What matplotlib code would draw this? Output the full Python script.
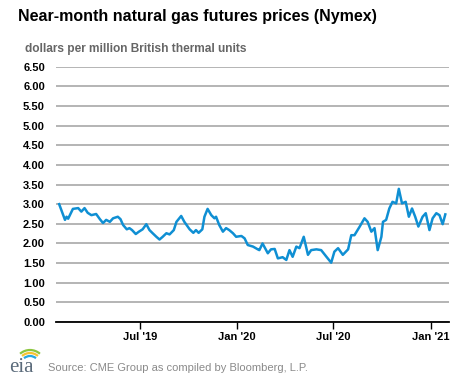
import numpy as np
import pandas as pd
import matplotlib
matplotlib.use("Agg")
import matplotlib.pyplot as plt
from matplotlib.patches import Arc

plt.rcParams['font.family'] = ['Liberation Sans', 'DejaVu Sans']

# near-month price readings, dollars per MMBtu
dates = ["2019-01-29", "2019-02-09", "2019-02-12", "2019-02-15", "2019-02-24", "2019-03-06",
         "2019-03-12", "2019-03-18", "2019-03-24", "2019-03-31", "2019-04-09", "2019-04-16",
         "2019-04-22", "2019-04-28", "2019-05-05", "2019-05-11", "2019-05-20", "2019-05-25",
         "2019-05-30", "2019-06-06", "2019-06-11", "2019-06-16", "2019-06-23", "2019-06-29",
         "2019-07-06", "2019-07-13", "2019-07-19", "2019-07-25", "2019-08-01", "2019-08-07",
         "2019-08-13", "2019-08-20", "2019-08-26", "2019-09-03", "2019-09-08", "2019-09-17",
         "2019-09-23", "2019-10-03", "2019-10-10", "2019-10-15", "2019-10-20", "2019-10-27",
         "2019-10-31", "2019-11-06", "2019-11-13", "2019-11-19", "2019-11-22", "2019-11-28",
         "2019-12-05", "2019-12-11", "2019-12-17", "2019-12-24", "2019-12-30", "2020-01-09",
         "2020-01-15", "2020-01-21", "2020-01-31", "2020-02-09", "2020-02-12", "2020-02-18",
         "2020-02-28", "2020-03-05", "2020-03-12", "2020-03-18", "2020-03-27", "2020-04-03",
         "2020-04-09", "2020-04-15", "2020-04-22", "2020-04-28", "2020-05-06", "2020-05-14",
         "2020-05-20", "2020-05-30", "2020-06-08", "2020-06-18", "2020-06-27", "2020-07-03",
         "2020-07-10", "2020-07-19", "2020-07-29", "2020-08-04", "2020-08-10", "2020-08-20",
         "2020-08-29", "2020-09-04", "2020-09-11", "2020-09-17", "2020-09-23", "2020-09-30",
         "2020-10-03", "2020-10-09", "2020-10-15", "2020-10-21", "2020-10-28", "2020-11-02",
         "2020-11-08", "2020-11-15", "2020-11-21", "2020-11-27", "2020-12-03", "2020-12-09",
         "2020-12-17", "2020-12-23", "2020-12-30", "2021-01-05", "2021-01-12", "2021-01-18",
         "2021-01-24", "2021-01-29"]
prices = [3.00, 2.60, 2.68, 2.63, 2.88, 2.90,
          2.81, 2.90, 2.78, 2.72, 2.75, 2.62,
          2.52, 2.60, 2.55, 2.64, 2.68, 2.62,
          2.47, 2.36, 2.39, 2.34, 2.24, 2.30,
          2.36, 2.49, 2.34, 2.26, 2.17, 2.10,
          2.17, 2.26, 2.23, 2.34, 2.55, 2.70,
          2.55, 2.36, 2.27, 2.34, 2.27, 2.36,
          2.68, 2.88, 2.72, 2.64, 2.68, 2.47,
          2.30, 2.39, 2.34, 2.26, 2.17, 2.19,
          2.13, 1.96, 1.92, 1.85, 1.83, 2.00,
          1.75, 1.85, 1.86, 1.62, 1.65, 1.58,
          1.83, 1.66, 1.92, 1.88, 2.17, 1.71,
          1.83, 1.85, 1.83, 1.66, 1.51, 1.79,
          1.88, 1.71, 1.85, 2.21, 2.21, 2.43,
          2.64, 2.55, 2.30, 2.39, 1.83, 2.17,
          2.55, 2.60, 2.89, 3.06, 3.02, 3.39,
          3.02, 3.06, 2.68, 2.89, 2.68, 2.43,
          2.68, 2.77, 2.34, 2.64, 2.77, 2.72,
          2.49, 2.74]

tick_dates = ["2019-07-01", "2020-01-01", "2020-07-01", "2021-01-01"]
tick_labels = ["Jul '19", "Jan '20", "Jul '20", "Jan '21"]
y_ticks = np.arange(0, 6.51, 0.5)

x = pd.to_datetime(dates)

fig = plt.figure(figsize=(4.77, 3.79), dpi=100)
ax = fig.add_axes([0.1174, 0.1504, 0.8239, 0.6736])

ax.plot(x, prices, color="#0f8fd3", linewidth=1.8)

ax.set_ylim(0, 6.5)
ax.set_yticks(y_ticks)
ax.set_yticklabels(["%.2f" % v for v in y_ticks])
ax.set_xlim(pd.Timestamp("2019-01-23"), pd.Timestamp("2021-02-05"))
ax.set_xticks(pd.to_datetime(tick_dates))
ax.set_xticklabels(tick_labels)

ax.grid(axis="y", color="#a0a0a0", linewidth=1.1)
ax.set_axisbelow(True)
for s in ["left", "right", "top"]:
    ax.spines[s].set_visible(False)
ax.spines["bottom"].set_color("black")
ax.spines["bottom"].set_linewidth(1.3)
ax.tick_params(axis="y", length=0, pad=8, labelsize=8)
ax.tick_params(axis="x", length=5, width=1, pad=2, labelsize=8)
for lab in ax.get_xticklabels() + ax.get_yticklabels():
    lab.set_fontweight("bold")

fig.text(18 / 477, 1 - 17 / 379, "Near-month natural gas futures prices (Nymex)",
         fontsize=11.5, fontweight="bold", va="center", ha="left")
fig.text(25 / 477, 1 - 49 / 379, "dollars per million British thermal units",
         fontsize=8.6, fontweight="bold", color="#666666", va="center", ha="left")
fig.text(48 / 477, 1 - 368 / 379, "Source: CME Group as compiled by Bloomberg, L.P.",
         fontsize=8, color="#8a8a8a", va="center", ha="left")

# eia logo
fig.text(9 / 477, 1 - 368 / 379, "eia", family="Liberation Serif", fontsize=15,
         color="#5b6b7b", va="center", ha="left")
for r, c in [(15, "#8cc63f"), (12, "#f7c331"), (9, "#29a8e0")]:
    fig.patches.append(Arc((30 / 477, 1 - 365 / 379), 2 * r / 477, 2 * r / 379,
                           theta1=55, theta2=125, color=c, linewidth=1.6,
                           transform=fig.transFigure))

fig.savefig("out.png", dpi=100)
